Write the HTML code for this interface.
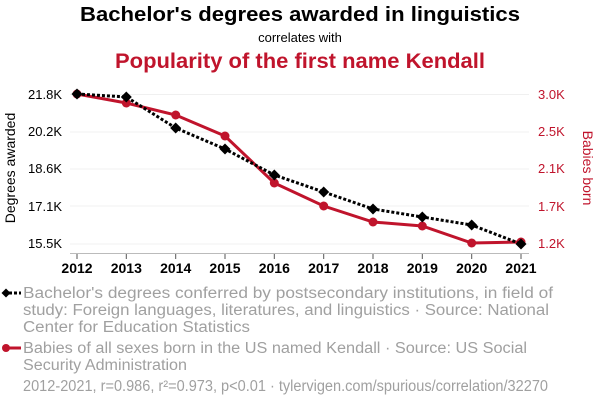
<!DOCTYPE html>
<html><head><meta charset="utf-8"><style>
html,body{margin:0;padding:0;background:#fff;width:600px;height:408px;overflow:hidden}
svg{display:block;font-family:"Liberation Sans",Arial,sans-serif}
</style></head><body>
<svg width="600" height="408" viewBox="0 0 600 408">
<text x="300" y="21" text-anchor="middle" font-size="20" font-weight="bold" fill="#000" textLength="440" lengthAdjust="spacingAndGlyphs">Bachelor's degrees awarded in linguistics</text>
<text x="300" y="42" text-anchor="middle" font-size="13" fill="#000">correlates with</text>
<text x="300" y="68" text-anchor="middle" font-size="21" font-weight="bold" fill="#c0142c" textLength="370" lengthAdjust="spacingAndGlyphs">Popularity of the first name Kendall</text>
<g stroke="#f0f0f0" stroke-width="1">
<line x1="70" x2="529" y1="94.5" y2="94.5"/><line x1="70" x2="529" y1="132" y2="132"/><line x1="70" x2="529" y1="169" y2="169"/><line x1="70" x2="529" y1="206" y2="206"/><line x1="70" x2="529" y1="244" y2="244"/>
</g>
<line x1="70" x2="529" y1="253.5" y2="253.5" stroke="#bbb"/>
<g stroke="#555"><line x1="77" x2="77" y1="254" y2="259"/><line x1="126.3" x2="126.3" y1="254" y2="259"/><line x1="175.7" x2="175.7" y1="254" y2="259"/><line x1="225" x2="225" y1="254" y2="259"/><line x1="274.3" x2="274.3" y1="254" y2="259"/><line x1="323.7" x2="323.7" y1="254" y2="259"/><line x1="373" x2="373" y1="254" y2="259"/><line x1="422.3" x2="422.3" y1="254" y2="259"/><line x1="471.7" x2="471.7" y1="254" y2="259"/><line x1="521" x2="521" y1="254" y2="259"/></g>
<g font-size="13" fill="#000" text-anchor="end"><text x="62" y="99">21.8K</text><text x="62" y="136">20.2K</text><text x="62" y="173">18.6K</text><text x="62" y="211">17.1K</text><text x="62" y="248">15.5K</text></g>
<g font-size="13" fill="#c0142c"><text x="538" y="99">3.0K</text><text x="538" y="136">2.5K</text><text x="538" y="173">2.1K</text><text x="538" y="211">1.7K</text><text x="538" y="248">1.2K</text></g>
<g font-size="14" font-weight="bold" fill="#000" text-anchor="middle"><text x="77" y="273">2012</text><text x="126.3" y="273">2013</text><text x="175.7" y="273">2014</text><text x="225" y="273">2015</text><text x="274.3" y="273">2016</text><text x="323.7" y="273">2017</text><text x="373" y="273">2018</text><text x="422.3" y="273">2019</text><text x="471.7" y="273">2020</text><text x="521" y="273">2021</text></g>
<text transform="translate(15,168) rotate(-90)" text-anchor="middle" font-size="14" fill="#000">Degrees awarded</text>
<text transform="translate(583,168) rotate(90)" text-anchor="middle" font-size="14" fill="#c0142c">Babies born</text>
<polyline fill="none" stroke="#c0142c" stroke-width="3" points="77,94 126.3,103 175.7,115 225,136 274.3,183 323.7,206 373,222 422.3,226 471.7,243 521,242"/>
<g fill="#c0142c"><circle cx="77" cy="94" r="4.5"/><circle cx="126.3" cy="103" r="4.5"/><circle cx="175.7" cy="115" r="4.5"/><circle cx="225" cy="136" r="4.5"/><circle cx="274.3" cy="183" r="4.5"/><circle cx="323.7" cy="206" r="4.5"/><circle cx="373" cy="222" r="4.5"/><circle cx="422.3" cy="226" r="4.5"/><circle cx="471.7" cy="243" r="4.5"/><circle cx="521" cy="242" r="4.5"/></g>
<polyline fill="none" stroke="#000" stroke-width="3" stroke-dasharray="3,2" points="77,94 126.3,97 175.7,128 225,149 274.3,175 323.7,192 373,209 422.3,217 471.7,225 521,244"/>
<g fill="#000"><path d="M77,88.5l5.5,5.5l-5.5,5.5l-5.5,-5.5z"/><path d="M126.3,91.5l5.5,5.5l-5.5,5.5l-5.5,-5.5z"/><path d="M175.7,122.5l5.5,5.5l-5.5,5.5l-5.5,-5.5z"/><path d="M225,143.5l5.5,5.5l-5.5,5.5l-5.5,-5.5z"/><path d="M274.3,169.5l5.5,5.5l-5.5,5.5l-5.5,-5.5z"/><path d="M323.7,186.5l5.5,5.5l-5.5,5.5l-5.5,-5.5z"/><path d="M373,203.5l5.5,5.5l-5.5,5.5l-5.5,-5.5z"/><path d="M422.3,211.5l5.5,5.5l-5.5,5.5l-5.5,-5.5z"/><path d="M471.7,219.5l5.5,5.5l-5.5,5.5l-5.5,-5.5z"/><path d="M521,238.5l5.5,5.5l-5.5,5.5l-5.5,-5.5z"/></g>
<line x1="4" x2="21" y1="293" y2="293" stroke="#000" stroke-width="3" stroke-dasharray="3,2"/>
<path d="M6,288.5l4.5,4.5l-4.5,4.5l-4.5,-4.5z" fill="#000"/>
<line x1="4" x2="21" y1="348" y2="348" stroke="#c0142c" stroke-width="3"/>
<circle cx="6" cy="348" r="4" fill="#c0142c"/>
<g font-size="15.5" fill="#a0a0a0">
<text x="23" y="298" textLength="530" lengthAdjust="spacingAndGlyphs">Bachelor's degrees conferred by postsecondary institutions, in field of</text>
<text x="23" y="315" textLength="526" lengthAdjust="spacingAndGlyphs">study: Foreign languages, literatures, and linguistics · Source: National</text>
<text x="23" y="332" textLength="227" lengthAdjust="spacingAndGlyphs">Center for Education Statistics</text>
<text x="23" y="353" textLength="504" lengthAdjust="spacingAndGlyphs">Babies of all sexes born in the US named Kendall · Source: US Social</text>
<text x="23" y="370" textLength="164" lengthAdjust="spacingAndGlyphs">Security Administration</text>
<text x="23" y="391" textLength="525" lengthAdjust="spacingAndGlyphs">2012-2021, r=0.986, r²=0.973, p&lt;0.01 · tylervigen.com/spurious/correlation/32270</text>
</g>
</svg>
</body></html>
